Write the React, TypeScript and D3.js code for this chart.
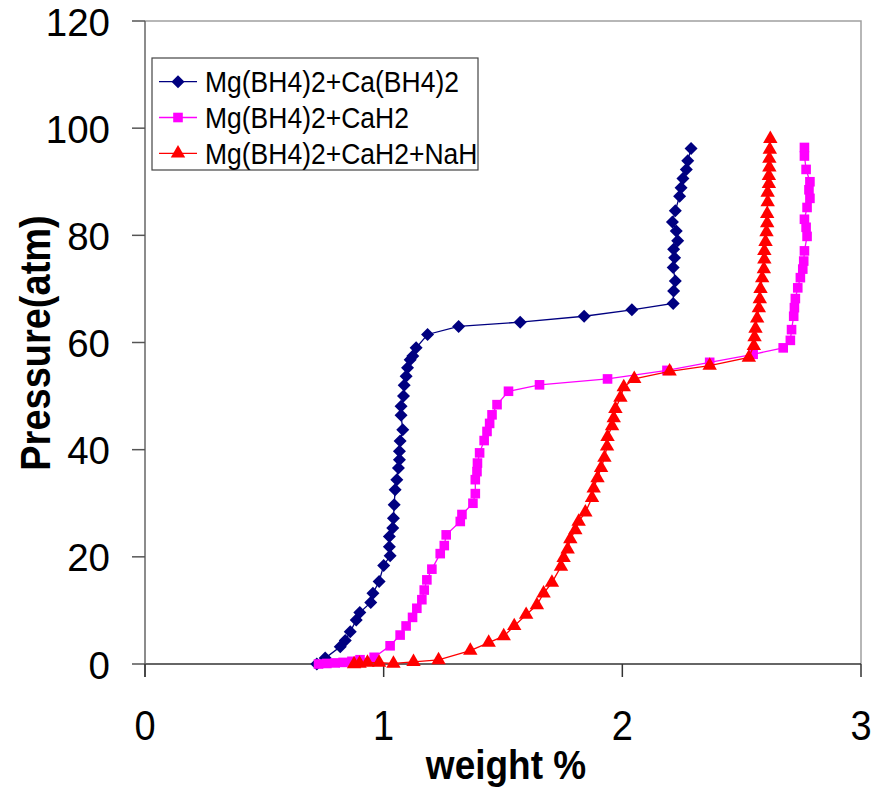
import React from 'react'
import * as d3 from 'd3'

// Mg(BH4)2+Ca(BH4)2
const caBH4Weight = [0.72, 0.755, 0.818, 0.839, 0.86, 0.885, 0.9, 0.946, 0.955, 0.981, 1.0, 1.027, 1.024, 1.024, 1.038, 1.041, 1.044, 1.048, 1.055, 1.062, 1.066, 1.066, 1.069, 1.08, 1.073, 1.073, 1.083, 1.086, 1.094, 1.1, 1.111, 1.122, 1.136, 1.184, 1.314, 1.572, 1.84, 2.04, 2.213, 2.215, 2.222, 2.213, 2.219, 2.215, 2.232, 2.226, 2.21, 2.222, 2.24, 2.246, 2.254, 2.268, 2.274, 2.288]
const caBH4Pressure = [0, 1.1, 3.2, 4.4, 6.0, 8.2, 9.6, 11.5, 13.2, 15.4, 18.4, 20.2, 21.9, 23.8, 25.4, 27.2, 29.7, 32.5, 34.4, 36.6, 38.1, 39.7, 41.6, 43.7, 46.4, 48.1, 50.0, 52.0, 53.7, 55.3, 56.8, 57.5, 59.0, 61.5, 63.0, 63.8, 64.9, 66.1, 67.3, 69.6, 71.5, 74.0, 75.8, 77.4, 79.0, 80.8, 82.5, 84.6, 87.3, 88.9, 90.6, 92.3, 93.9, 96.2]

// Mg(BH4)2+CaH2
const caH2Weight = [0.727, 0.762, 0.797, 0.83, 0.867, 0.901, 0.96, 1.027, 1.069, 1.094, 1.121, 1.139, 1.16, 1.17, 1.181, 1.202, 1.237, 1.254, 1.262, 1.321, 1.328, 1.374, 1.384, 1.384, 1.391, 1.393, 1.402, 1.421, 1.433, 1.444, 1.454, 1.475, 1.523, 1.653, 1.938, 2.187, 2.366, 2.548, 2.674, 2.704, 2.709, 2.718, 2.721, 2.725, 2.735, 2.746, 2.756, 2.76, 2.763, 2.774, 2.77, 2.763, 2.774, 2.786, 2.782, 2.786, 2.77, 2.763, 2.763]
const caH2Pressure = [0, 0.1, 0.2, 0.3, 0.5, 0.8, 1.25, 3.4, 5.4, 7.1, 8.7, 10.4, 12.0, 13.8, 15.7, 17.7, 20.6, 22.1, 24.1, 26.6, 27.9, 30.0, 31.8, 34.4, 35.9, 37.5, 39.4, 41.7, 43.4, 44.9, 46.5, 48.4, 50.9, 52.1, 53.2, 54.8, 56.3, 57.8, 59.0, 60.4, 62.4, 64.9, 66.5, 68.2, 70.2, 72.1, 73.7, 75.2, 77.1, 79.8, 81.5, 83.0, 85.2, 86.9, 88.5, 90.0, 92.3, 94.8, 96.4]

// Mg(BH4)2+CaH2+NaH
const naHWeight = [0.876, 0.899, 0.932, 0.981, 1.041, 1.125, 1.23, 1.363, 1.44, 1.503, 1.547, 1.597, 1.642, 1.67, 1.705, 1.743, 1.754, 1.771, 1.782, 1.803, 1.817, 1.845, 1.873, 1.88, 1.896, 1.911, 1.925, 1.936, 1.938, 1.957, 1.964, 1.971, 1.992, 2.006, 2.05, 2.198, 2.366, 2.53, 2.551, 2.554, 2.558, 2.565, 2.572, 2.576, 2.579, 2.586, 2.593, 2.595, 2.595, 2.6, 2.604, 2.607, 2.607, 2.609, 2.609, 2.614, 2.614, 2.616, 2.616, 2.618, 2.62]
const naHPressure = [0, 0.1, 0.25, 0.25, 0.1, 0.4, 0.75, 2.5, 4.0, 5.2, 7.1, 9.2, 11.0, 13.2, 15.2, 18.2, 19.8, 21.4, 23.3, 25.0, 26.6, 28.3, 31.0, 32.8, 34.7, 36.6, 38.5, 40.6, 42.4, 44.4, 45.9, 47.6, 49.7, 51.7, 53.2, 54.6, 55.7, 57.2, 59.4, 61.0, 62.6, 64.5, 66.4, 68.1, 70.0, 72.0, 73.7, 75.5, 77.1, 78.8, 80.6, 82.3, 84.0, 86.2, 88.0, 89.6, 91.1, 92.7, 94.3, 96.0, 98.0]

const seriesNames = ['Mg(BH4)2+Ca(BH4)2', 'Mg(BH4)2+CaH2', 'Mg(BH4)2+CaH2+NaH']
const seriesColors = ['#000080', '#ff00ff', '#ff0000']
const xTicks = [0, 1, 2, 3]
const yTicks = [0, 20, 40, 60, 80, 100, 120]

const font = 'Liberation Sans, Arial, Helvetica, sans-serif'
const stretch = 1.12

const marker = (kind: number, x: number, y: number, color: string, key?: any) => {
  if (kind === 0) {
    const s = 6.5
    return <path key={key} d={`M${x},${y - s}L${x + s},${y}L${x},${y + s}L${x - s},${y}Z`} fill={color} />
  }
  if (kind === 1) {
    const s = 4.8
    return <rect key={key} x={x - s} y={y - s} width={s * 2} height={s * 2} fill={color} />
  }
  const tri = d3.symbol().type(d3.symbolTriangle).size(90)()
  return <path key={key} d={tri} transform={`translate(${x},${y})`} fill={color} />
}

// text stretched a bit vertically, like the original rendering
const Label = ({ x, y, size, anchor, bold, sy, children }: any) => (
  <text transform={`translate(${x},${y}) scale(1,${sy || stretch})`} textAnchor={anchor || 'start'}
    fontSize={size} fontWeight={bold ? 'bold' : 'normal'} fontFamily={font}>{children}</text>
)

export default function App() {
  const left = 145, right = 861, top = 21, bottom = 664
  const x = d3.scaleLinear().domain([0, 3]).range([left, right])
  const y = d3.scaleLinear().domain([0, 120]).range([bottom, top])

  const series = [
    { w: caBH4Weight, p: caBH4Pressure },
    { w: caH2Weight, p: caH2Pressure },
    { w: naHWeight, p: naHPressure }
  ]

  const line = d3.line<[number, number]>()

  return (
    <svg width={872} height={787} style={{ position: 'absolute', left: 0, top: 0, background: '#fff' }}>
      <rect x={0} y={0} width={872} height={787} fill="#fff" />
      {/* plot area border */}
      <path d={`M${left},${top}H${right}V${bottom}`} fill="none" stroke="#a0a0a0" strokeWidth={1.5} />

      {/* axes */}
      <line x1={left} x2={right} y1={bottom} y2={bottom} stroke="#333" strokeWidth={1.5} />
      <line x1={left} x2={left} y1={top} y2={bottom + 13} stroke="#666" strokeWidth={1.5} />
      {yTicks.map(t => (
        <g key={'y' + t}>
          <line x1={left - 13} x2={left} y1={y(t)} y2={y(t)} stroke="#555" strokeWidth={1.5} />
          <Label x={110} y={y(t) + 14.5} size={38.5} anchor="end" sy={1.02}>{t}</Label>
        </g>
      ))}
      {xTicks.map(t => (
        <g key={'x' + t}>
          <line x1={x(t)} x2={x(t)} y1={bottom} y2={bottom + 13} stroke="#333" strokeWidth={1.5} />
          <Label x={x(t)} y={740} size={38} anchor="middle">{t}</Label>
        </g>
      ))}

      <Label x={506} y={779} size={37} anchor="middle" bold>weight %</Label>
      <text transform={`translate(50,343) rotate(-90) scale(1,${stretch})`} textAnchor="middle" fontSize={38}
        fontWeight="bold" fontFamily={font}>Pressure(atm)</text>

      {/* series */}
      {series.map((s, i) => {
        const pts = s.w.map((w, j) => [x(w), y(s.p[j])] as [number, number])
        return (
          <g key={'s' + i}>
            <path d={line(pts) || ''} fill="none" stroke={seriesColors[i]} strokeWidth={1.3} />
            {pts.map((pt, j) => marker(i, pt[0], pt[1], seriesColors[i], j))}
          </g>
        )
      })}

      {/* legend */}
      <rect x={152} y={58} width={326} height={112} fill="#fff" stroke="#444" strokeWidth={1.2} />
      {seriesNames.map((n, i) => {
        const ry = 81.7 + i * 35.8
        return (
          <g key={'l' + i}>
            <line x1={159} x2={197} y1={ry} y2={ry} stroke={seriesColors[i]} strokeWidth={1.3} />
            {marker(i, 178, ry, seriesColors[i])}
            <Label x={205} y={ry + 10.5} size={26.5}>{n}</Label>
          </g>
        )
      })}
    </svg>
  )
}
